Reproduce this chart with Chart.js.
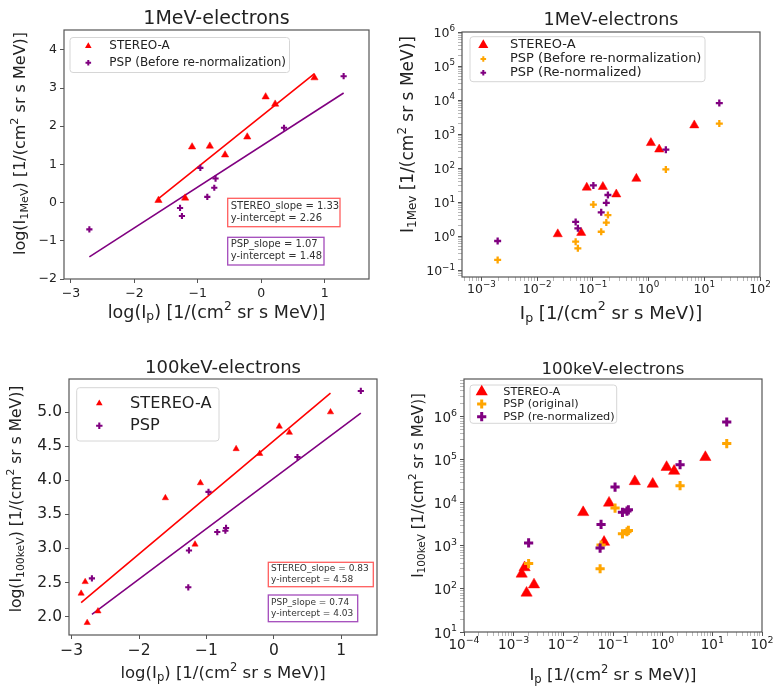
<!DOCTYPE html>
<html>
<head>
<meta charset="utf-8">
<script src="https://cdn.jsdelivr.net/npm/chart.js@4.4.1/dist/chart.umd.min.js"></script>
<style>
  html, body { margin: 0; padding: 0; background: #fff; }
  #fig { position: relative; width: 775px; height: 687px; overflow: hidden; }
  canvas { position: absolute; }
</style>
</head>
<body>
<div id="fig">
  <canvas id="c1" width="387" height="340" style="left:0;top:0"></canvas>
  <canvas id="c2" width="388" height="340" style="left:387px;top:0"></canvas>
  <canvas id="c3" width="387" height="347" style="left:0;top:340px"></canvas>
  <canvas id="c4" width="388" height="347" style="left:387px;top:340px"></canvas>
</div>
<script>
// panel 1 : 1MeV electrons, log values
const p1StereoLogIp = [-1.62, -1.20, -1.09, -0.81, -0.57, -0.22, 0.07, 0.22, 0.84];
const p1StereoLogI  = [0.06, 0.12, 1.46, 1.48, 1.25, 1.72, 2.77, 2.58, 3.27];
const p1PspLogIp    = [-2.71, -1.28, -1.25, -0.96, -0.85, -0.74, -0.72, 0.36, 1.30];
const p1PspLogI     = [-0.70, -0.14, -0.35, 0.91, 0.15, 0.39, 0.63, 1.96, 3.31];
const p1StereoFit   = [1.33, 2.26];   // slope, intercept
const p1PspFit      = [1.07, 1.48];
const p1XTicks = [-3, -2, -1, 0, 1];
const p1YTicks = [-2, -1, 0, 1, 2, 3, 4];

// panel 2 : 1MeV electrons, log-log axes
const p2StereoIp   = [0.0234, 0.0617, 0.0776, 0.151, 0.263, 0.603, 1.10, 1.55, 6.61];
const p2StereoI    = [1.15, 1.26, 26.9, 28.2, 17.0, 49.0, 550, 355, 1820];
const p2PspIp      = [0.00195, 0.049, 0.0537, 0.102, 0.141, 0.174, 0.186, 2.04, 18.6];
const p2PspOrigI   = [0.20, 0.69, 0.44, 8.5, 1.35, 2.51, 4.17, 91.2, 2040];
const p2PspRenormI = [0.72, 2.63, 1.70, 30.9, 5.01, 9.55, 16.2, 347, 8130];
const p2XExp = [-3, -2, -1, 0, 1, 2];
const p2YExp = [-1, 0, 1, 2, 3, 4, 5, 6];

// panel 3 : 100keV electrons, log values
const p3StereoLogIp = [-2.86, -2.80, -2.77, -2.61, -1.61, -1.17, -1.09, -0.56, -0.21, 0.08, 0.23, 0.84];
const p3StereoLogI  = [2.34, 2.51, 1.91, 2.08, 3.74, 3.06, 3.96, 4.46, 4.39, 4.79, 4.70, 5.00];
const p3PspLogIp    = [-2.70, -1.27, -1.26, -0.97, -0.84, -0.72, -0.71, 0.35, 1.29];
const p3PspLogI     = [2.56, 2.43, 2.97, 3.83, 3.24, 3.26, 3.30, 4.34, 5.31];
const p3StereoFit   = [0.83, 4.58];
const p3PspFit      = [0.74, 4.03];
const p3XTicks = [-3, -2, -1, 0, 1];
const p3YTicks = [2.0, 2.5, 3.0, 3.5, 4.0, 4.5, 5.0];

// panel 4 : 100keV electrons, log-log axes
const p4StereoIp   = [0.00145, 0.00166, 0.00182, 0.00257, 0.0251, 0.0661, 0.0832, 0.275, 0.631, 1.20, 1.70, 7.24];
const p4StereoI    = [224, 316, 81, 126, 6030, 1230, 10000, 31600, 27500, 67600, 55000, 115000];
const p4PspIp      = [0.0020, 0.055, 0.0575, 0.110, 0.155, 0.191, 0.204, 2.24, 19.5];
const p4PspOrigI   = [389, 295, 1050, 7590, 1910, 2140, 2290, 25100, 240000];
const p4PspRenormI = [1175, 891, 3160, 23400, 6030, 6460, 6920, 77600, 759000];
const p4XExp = [-4, -3, -2, -1, 0, 1, 2];
const p4YExp = [1, 2, 3, 4, 5, 6];

const FONT = 'DejaVu Sans';
const RED = '#ff0000', PURPLE = '#800080', ORANGE = '#ffa500';
const YW = 50, XH = 30;   // fixed axis box sizes
Chart.defaults.font.family = FONT;

const minus = v => (v < 0 ? '\u2212' : '') + Math.abs(v);

function pts(xs, ys) { return xs.map((x, i) => ({ x: x, y: ys[i] })); }

function fitLine(xs, fit, color) {
  const x0 = Math.min(...xs), x1 = Math.max(...xs);
  return { type: 'line', data: [{ x: x0, y: fit[0] * x0 + fit[1] }, { x: x1, y: fit[0] * x1 + fit[1] }],
           borderColor: color, borderWidth: 1.6, pointRadius: 0, fill: false, order: 9 };
}

function tri(data, r, order) {
  return { data: data, pointStyle: 'triangle', pointRadius: r, backgroundColor: RED,
           borderColor: RED, borderWidth: 0.5, order: order };
}
function plus(data, color, r, w, order) {
  return { data: data, pointStyle: 'cross', pointRadius: r, backgroundColor: color,
           borderColor: color, borderWidth: w, order: order };
}

function fixFit(isY) {
  return s => {
    if (isY) s.width = YW; else s.height = XH;
    s.paddingLeft = s.paddingRight = s.paddingTop = s.paddingBottom = 0;
  };
}

function linAxis(min, max, ticks, fmt, size, isY) {
  return {
    type: 'linear', min: min, max: max, bounds: 'data',
    afterBuildTicks: s => { s.ticks = ticks.map(v => ({ value: v })); },
    afterFit: fixFit(isY),
    ticks: { autoSkip: false, maxRotation: 0, minRotation: 0, padding: 3, color: '#222',
             font: { size: size }, callback: v => fmt(v) },
    grid: { drawOnChartArea: false, drawTicks: true, tickLength: 4, tickColor: '#555', tickWidth: 1 },
    border: { display: false }
  };
}

// log axes: tick marks from Chart.js, decade labels drawn by the decor plugin
function logAxis(lo, hi, isY) {
  const min = Math.pow(10, lo), max = Math.pow(10, hi);
  return {
    type: 'logarithmic', min: min, max: max, bounds: 'data',
    afterBuildTicks: s => {
      const t = [];
      for (let d = Math.floor(lo); d <= Math.ceil(hi); d++) {
        for (let k = 1; k < 10; k++) {
          const v = k * Math.pow(10, d);
          if (v >= min * 0.999 && v <= max * 1.001) t.push({ value: v, major: k === 1 });
        }
      }
      s.ticks = t;
    },
    afterFit: fixFit(isY),
    ticks: { autoSkip: false, maxRotation: 0, minRotation: 0, callback: () => '' },
    grid: { drawOnChartArea: false, drawTicks: true, tickLength: 4,
            tickColor: c => (c.tick && c.tick.major ? '#555' : '#999'),
            tickWidth: c => (c.tick && c.tick.major ? 1 : 0.7) },
    border: { display: false }
  };
}

function richText(ctx, segs, cx, cy, size, vertical, align) {
  ctx.save();
  ctx.translate(cx, cy);
  if (vertical) ctx.rotate(-Math.PI / 2);
  ctx.fillStyle = '#222';
  ctx.textBaseline = 'middle';
  ctx.textAlign = 'left';
  const parts = segs.map(sg => {
    const s = sg[1] ? size * 0.7 : size;
    ctx.font = s + 'px "' + FONT + '"';
    return { t: sg[0], k: sg[1], s: s, w: ctx.measureText(sg[0]).width };
  });
  const total = parts.reduce((a, p) => a + p.w, 0);
  let x = align === 'right' ? -total : -total / 2;
  parts.forEach(p => {
    ctx.font = p.s + 'px "' + FONT + '"';
    const dy = p.k === 'sub' ? size * 0.24 : p.k === 'sup' ? -size * 0.38 : 0;
    ctx.fillText(p.t, x, dy);
    x += p.w;
  });
  ctx.restore();
}

function marker(ctx, m, x, y) {
  ctx.save();
  if (m.shape === 'triangle') {
    ctx.beginPath();
    ctx.moveTo(x, y - m.r);
    ctx.lineTo(x + m.r * 0.866, y + m.r * 0.5);
    ctx.lineTo(x - m.r * 0.866, y + m.r * 0.5);
    ctx.closePath();
    ctx.fillStyle = m.color;
    ctx.fill();
  } else {
    ctx.strokeStyle = m.color;
    ctx.lineWidth = m.w;
    ctx.beginPath();
    ctx.moveTo(x - m.r, y); ctx.lineTo(x + m.r, y);
    ctx.moveTo(x, y - m.r); ctx.lineTo(x, y + m.r);
    ctx.stroke();
  }
  ctx.restore();
}

function roundRect(ctx, x0, y0, x1, y1, r) {
  ctx.beginPath();
  ctx.moveTo(x0 + r, y0);
  ctx.lineTo(x1 - r, y0); ctx.quadraticCurveTo(x1, y0, x1, y0 + r);
  ctx.lineTo(x1, y1 - r); ctx.quadraticCurveTo(x1, y1, x1 - r, y1);
  ctx.lineTo(x0 + r, y1); ctx.quadraticCurveTo(x0, y1, x0, y1 - r);
  ctx.lineTo(x0, y0 + r); ctx.quadraticCurveTo(x0, y0, x0 + r, y0);
  ctx.closePath();
}

const expSegs = e => [['10'], [minus(e), 'sup']];

// frame, titles, decade labels, legend and fit notes
const decor = {
  id: 'decor',
  afterDatasetsDraw(chart, args, o) {
    const ctx = chart.ctx, a = chart.chartArea;
    const cx = (a.left + a.right) / 2, cy = (a.top + a.bottom) / 2;
    ctx.save();
    ctx.strokeStyle = '#555';
    ctx.lineWidth = 1.2;
    ctx.strokeRect(a.left, a.top, a.right - a.left, a.bottom - a.top);

    if (o.logTicks) {
      const t = o.logTicks;
      t.x.forEach(e => richText(ctx, expSegs(e), chart.scales.x.getPixelForValue(Math.pow(10, e)),
                                a.bottom + 6 + t.size * 0.55, t.size, false));
      t.y.forEach(e => richText(ctx, expSegs(e), a.left - 7,
                                chart.scales.y.getPixelForValue(Math.pow(10, e)) + t.size * 0.15,
                                t.size, false, 'right'));
    }

    richText(ctx, [[o.title.text]], cx, o.title.y, o.title.size, false);
    richText(ctx, o.xLabel.segs, cx, o.xLabel.y, o.xLabel.size, false);
    richText(ctx, o.yLabel.segs, o.yLabel.x, cy + (o.yLabel.dy || 0), o.yLabel.size, true);

    const L = o.legend, b = L.box;
    roundRect(ctx, b[0], b[1], b[2], b[3], 3);
    ctx.fillStyle = 'rgba(255,255,255,0.85)';
    ctx.fill();
    ctx.strokeStyle = '#d6d6d6';
    ctx.lineWidth = 1;
    ctx.stroke();
    L.items.forEach((it, i) => {
      marker(ctx, it, L.mx, L.rows[i]);
      ctx.fillStyle = '#222';
      ctx.font = L.size + 'px "' + FONT + '"';
      ctx.textBaseline = 'middle';
      ctx.textAlign = 'left';
      ctx.fillText(it.label, L.tx, L.rows[i]);
    });

    (o.notes || []).forEach(n => {
      const r = n.box;
      ctx.fillStyle = '#fff';
      ctx.fillRect(r[0], r[1], r[2] - r[0], r[3] - r[1]);
      ctx.strokeStyle = n.color;
      ctx.lineWidth = 1.3;
      ctx.strokeRect(r[0], r[1], r[2] - r[0], r[3] - r[1]);
      ctx.fillStyle = '#333';
      ctx.font = n.size + 'px "' + FONT + '"';
      ctx.textBaseline = 'middle';
      ctx.textAlign = 'left';
      n.lines.forEach((t, i) => ctx.fillText(t, n.tx, n.rows[i]));
    });
    ctx.restore();
  }
};

function panel(id, size, area, datasets, x, y, deco) {
  new Chart(document.getElementById(id), {
    type: 'scatter',
    data: { datasets: datasets },
    options: {
      responsive: false, animation: false, events: [],
      layout: { padding: { left: area[0] - YW, top: area[1], right: size[0] - area[2],
                           bottom: size[1] - area[3] - XH } },
      scales: { x: x, y: y },
      plugins: { legend: { display: false }, tooltip: { enabled: false }, decor: deco }
    },
    plugins: [decor]
  });
}

const logIpLabel = [['log(I'], ['p', 'sub'], [') [1/(cm'], ['2', 'sup'], [' sr s MeV)]']];
const ipLabel = [['I'], ['p', 'sub'], [' [1/(cm'], ['2', 'sup'], [' sr s MeV)]']];

// ---------- panel 1
panel('c1', [387, 340], [64, 30, 369, 279], [
    fitLine(p1StereoLogIp, p1StereoFit, RED),
    fitLine(p1PspLogIp, p1PspFit, PURPLE),
    tri(pts(p1StereoLogIp, p1StereoLogI), 4.2, 2),
    plus(pts(p1PspLogIp, p1PspLogI), PURPLE, 3.1, 2.1, 1)
  ],
  linAxis(-3.11, 1.70, p1XTicks, minus, 12.5, false),
  linAxis(-2.0, 4.52, p1YTicks, minus, 12.5, true),
  {
    title: { text: '1MeV-electrons', y: 19.5, size: 19 },
    xLabel: { segs: logIpLabel, y: 313, size: 17.5 },
    yLabel: { segs: [['log(I'], ['1MeV', 'sub'], [') [1/(cm'], ['2', 'sup'], [' sr s MeV)]']],
              x: 21, dy: -11, size: 16 },
    legend: { box: [70, 37.5, 289.5, 72.5], mx: 88.3, tx: 109.3, rows: [46, 62.7], size: 12,
              items: [{ shape: 'triangle', r: 3.8, color: RED, label: 'STEREO-A' },
                      { shape: 'plus', r: 2.8, w: 2, color: PURPLE, label: 'PSP (Before re-normalization)' }] },
    notes: [
      { box: [227.7, 198.3, 340, 226.7], color: 'rgba(255,40,40,0.75)', tx: 230.7, rows: [206.7, 218.3], size: 10,
        lines: ['STEREO_slope = 1.33', 'y-intercept = 2.26'] },
      { box: [227.7, 237.3, 324, 265], color: 'rgba(140,30,170,0.8)', tx: 230.7, rows: [244.3, 256], size: 10,
        lines: ['PSP_slope = 1.07', 'y-intercept = 1.48'] }
    ]
  });

// ---------- panel 2
panel('c2', [388, 340], [75, 32, 373, 277], [
    tri(pts(p2StereoIp, p2StereoI), 5.3, 3),
    plus(pts(p2PspIp, p2PspOrigI), ORANGE, 3.5, 2.3, 2),
    plus(pts(p2PspIp, p2PspRenormI), PURPLE, 3.5, 2.3, 1)
  ],
  logAxis(-3.35, 2.0, false),
  logAxis(-1.2, 6.0, true),
  {
    logTicks: { x: p2XExp, y: p2YExp, size: 12.5 },
    title: { text: '1MeV-electrons', y: 20, size: 17.5 },
    xLabel: { segs: ipLabel, y: 314, size: 18 },
    yLabel: { segs: [['I'], ['1Mev', 'sub'], [' [1/(cm'], ['2', 'sup'], [' sr s MeV)]']],
              x: 22, dy: -20, size: 17 },
    legend: { box: [83, 36.7, 318, 81.7], mx: 96.3, tx: 123, rows: [45, 59, 72.7], size: 13,
              items: [{ shape: 'triangle', r: 5.8, color: RED, label: 'STEREO-A' },
                      { shape: 'plus', r: 2.8, w: 2, color: ORANGE, label: 'PSP (Before re-normalization)' },
                      { shape: 'plus', r: 2.8, w: 2, color: PURPLE, label: 'PSP (Re-normalized)' }] }
  });

// ---------- panel 3
panel('c3', [387, 347], [69, 39, 377, 295], [
    fitLine(p3StereoLogIp, p3StereoFit, RED),
    fitLine(p3PspLogIp, p3PspFit, PURPLE),
    tri(pts(p3StereoLogIp, p3StereoLogI), 3.6, 2),
    plus(pts(p3PspLogIp, p3PspLogI), PURPLE, 3.1, 2.1, 1)
  ],
  linAxis(-3.04, 1.53, p3XTicks, minus, 15.5, false),
  linAxis(1.73, 5.485, p3YTicks, v => v.toFixed(1), 15.5, true),
  {
    title: { text: '100keV-electrons', y: 28.3, size: 18 },
    xLabel: { segs: logIpLabel, y: 334, size: 16.5 },
    yLabel: { segs: [['log(I'], ['100keV', 'sub'], [') [1/(cm'], ['2', 'sup'], [' sr s MeV)]']],
              x: 17, dy: -8, size: 15.5 },
    legend: { box: [76.7, 47.7, 219, 101], mx: 99.3, tx: 130, rows: [63.3, 85.7], size: 16.2,
              items: [{ shape: 'triangle', r: 3.8, color: RED, label: 'STEREO-A' },
                      { shape: 'plus', r: 3.2, w: 2.1, color: PURPLE, label: 'PSP' }] },
    notes: [
      { box: [268.3, 222.3, 373.3, 246.7], color: 'rgba(255,40,40,0.75)', tx: 271, rows: [228.6, 239.6], size: 9,
        lines: ['STEREO_slope = 0.83', 'y-intercept = 4.58'] },
      { box: [268.3, 255, 357.7, 281.7], color: 'rgba(140,30,170,0.8)', tx: 271, rows: [263, 273.6], size: 9,
        lines: ['PSP_slope = 0.74', 'y-intercept = 4.03'] }
    ]
  });

// ---------- panel 4
panel('c4', [388, 347], [77, 39, 375, 292], [
    tri(pts(p4StereoIp, p4StereoI), 6.5, 3),
    plus(pts(p4PspIp, p4PspOrigI), ORANGE, 4.6, 3, 2),
    plus(pts(p4PspIp, p4PspRenormI), PURPLE, 4.6, 3, 1)
  ],
  logAxis(-4, 2, false),
  logAxis(1, 6.88, true),
  {
    logTicks: { x: p4XExp, y: p4YExp, size: 13.5 },
    title: { text: '100keV-electrons', y: 29.7, size: 16.5 },
    xLabel: { segs: ipLabel, y: 336, size: 16.5 },
    yLabel: { segs: [['I'], ['100keV', 'sub'], [' [1/(cm'], ['2', 'sup'], [' sr s MeV)]']],
              x: 32, dy: -20, size: 15 },
    legend: { box: [83, 45, 229.7, 83.3], mx: 94.7, tx: 116.3, rows: [51.7, 64, 76.7], size: 11.3,
              items: [{ shape: 'triangle', r: 7, color: RED, label: 'STEREO-A' },
                      { shape: 'plus', r: 4.6, w: 3, color: ORANGE, label: 'PSP (original)' },
                      { shape: 'plus', r: 4.6, w: 3, color: PURPLE, label: 'PSP (re-normalized)' }] }
  });
</script>
</body>
</html>
